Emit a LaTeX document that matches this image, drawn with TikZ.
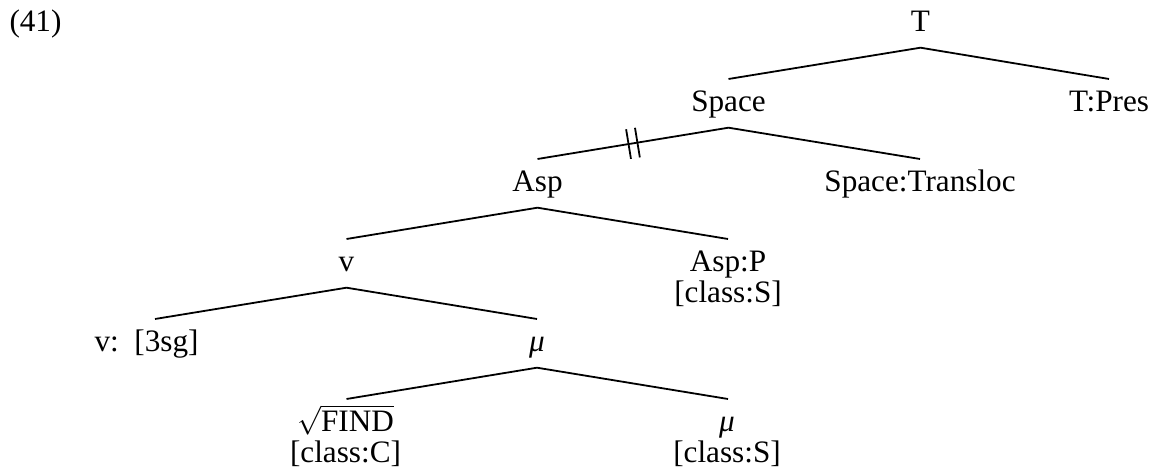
\documentclass[tikz,border=0pt]{standalone}
\usepackage{fontspec}
\setmainfont{Liberation Serif}
\usetikzlibrary{calc,decorations.markings}
\begin{document}
\begin{tikzpicture}[x=0.5pt,y=-0.5pt,
  lab/.style={anchor=base,inner sep=0pt,font=\fontsize{15.6pt}{15.6pt}\selectfont},
  edge/.style={line width=0.9pt,line join=miter},
  cutmark/.style={decoration={markings,mark=at position 0.5 with {
      \draw[line width=0.9pt] (-4.5,-15) -- (-4.5,15);
      \draw[line width=0.9pt] (4.5,-15) -- (4.5,15);}},decorate}]
\useasboundingbox (0,0) rectangle (1155,474);
% nodes
\node[lab] (ex) at (35.5,32) {(41)};
\node[lab] (T) at (920.5,32) {T};
\node[lab] (space) at (728.5,112) {Space};
\node[lab] (tpres) at (1109,112) {T:Pres};
\node[lab] (asp) at (537.5,192) {Asp};
\node[lab] (trans) at (920,192) {Space:Transloc};
\node[lab] (v) at (346.5,272) {v};
\node[lab] (aspP) at (728,272) {Asp:P};
\node[lab] (aspPcl) at (728,303) {[class:S]};
\node[lab] (vsg) at (146.5,352) {v:\ \ [3sg]};
\node[lab] (mu) at (537,352) {\textit{μ}};
\node[lab] (find) at (345.5,432) {$\sqrt{\mbox{FIND}}$};
\node[lab] (findcl) at (345.5,463) {[class:C]};
\node[lab] (mus) at (727,432) {\textit{μ}};
\node[lab] (muscl) at (727,463) {[class:S]};
% connectors
\draw[edge] ($(space.base)+(0,-33)$) -- ($(T.base)+(0,15.7)$) -- ($(tpres.base)+(0,-33)$);
\draw[edge] ($(asp.base)+(0,-33)$) -- ($(space.base)+(0,15.7)$) -- ($(trans.base)+(0,-33)$);
\path[cutmark] ($(asp.base)+(0,-33)$) -- ($(space.base)+(0,15.7)$);
\draw[edge] ($(v.base)+(0,-33)$) -- ($(asp.base)+(0,15.7)$) -- ($(aspP.base)+(0,-33)$);
\draw[edge] ($(vsg.base)+(8.5,-33)$) -- ($(v.base)+(0,15.7)$) -- ($(mu.base)+(0,-33)$);
\draw[edge] ($(find.base)+(1,-33)$) -- ($(mu.base)+(0,15.7)$) -- ($(mus.base)+(1,-33)$);
\end{tikzpicture}
\end{document}
